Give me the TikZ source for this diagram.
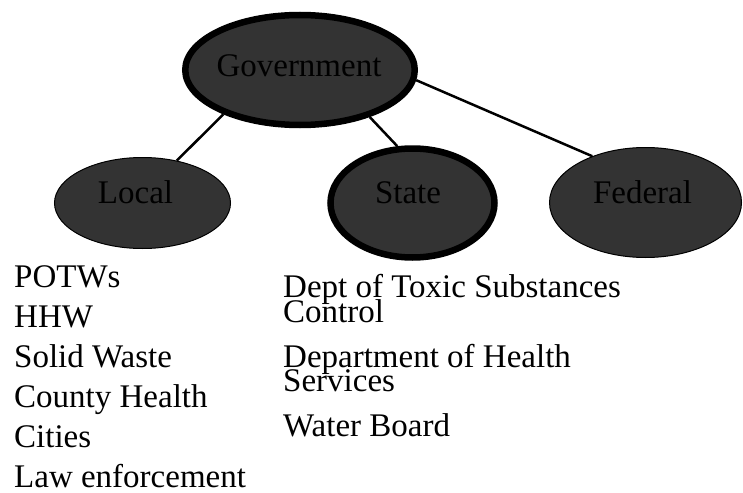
\documentclass[tikz,border=0pt]{standalone}
\usepackage{fontspec}
\setmainfont{Liberation Serif}
\usetikzlibrary{shapes.geometric}
\definecolor{darkfill}{HTML}{333333}
\tikzset{
    EL1/.style ={ellipse,inner sep=0pt,line width=6.5pt,draw,fill=darkfill},
    EL2/.style ={ellipse,inner sep=0pt,line width=1pt,draw,fill=darkfill},
    TX/.style ={font=\fontsize{33}{40}\selectfont,inner sep=0pt,anchor=base},
    LI/.style ={font=\fontsize{33}{40}\selectfont,inner sep=0pt,anchor=base west},
    LN/.style ={line width=2.5pt}}

\begin{document}
\begin{tikzpicture}[x=1pt,y=-1pt]
        \useasboundingbox (0,0) rectangle (743,492);
        \node[EL1,minimum width=229.5pt,minimum height=110pt] (gov) at(300,70){};
        \node[EL2,minimum width=176pt,minimum height=91pt] (local) at(142.5,203){};
        \node[EL1,minimum width=164pt,minimum height=109pt] (state) at(412.5,203){};
        \node[EL2,minimum width=192pt,minimum height=110pt] (federal) at(645.5,202.5){};
        \node[TX] (govtext) at(299,77){Government};
        \node[TX] (localtext) at(135.5,203){Local};
        \node[TX] (statetext) at(408,203){State};
        \node[TX] (federaltext) at(642.5,203){Federal};
        \draw[LN] (gov.210) -- (local.51);
        \draw[LN] (gov.326) -- (state.105);
        \draw[LN] (gov.-5) -- (federal.139);
        \node[LI] (loc1) at(14,287){POTWs};
        \node[LI] (loc2) at(14,327){HHW};
        \node[LI] (loc3) at(14,367){Solid Waste};
        \node[LI] (loc4) at(14,407){County Health};
        \node[LI] (loc5) at(14,447){Cities};
        \node[LI] (loc6) at(14,487){Law enforcement};
        \node[LI] (sta1) at(283,297){Dept of Toxic Substances};
        \node[LI] (sta2) at(283,322){Control};
        \node[LI] (sta3) at(283,367){Department of Health};
        \node[LI] (sta4) at(283,391){Services};
        \node[LI] (sta5) at(283,436){Water Board};
    \end{tikzpicture}
\end{document}
